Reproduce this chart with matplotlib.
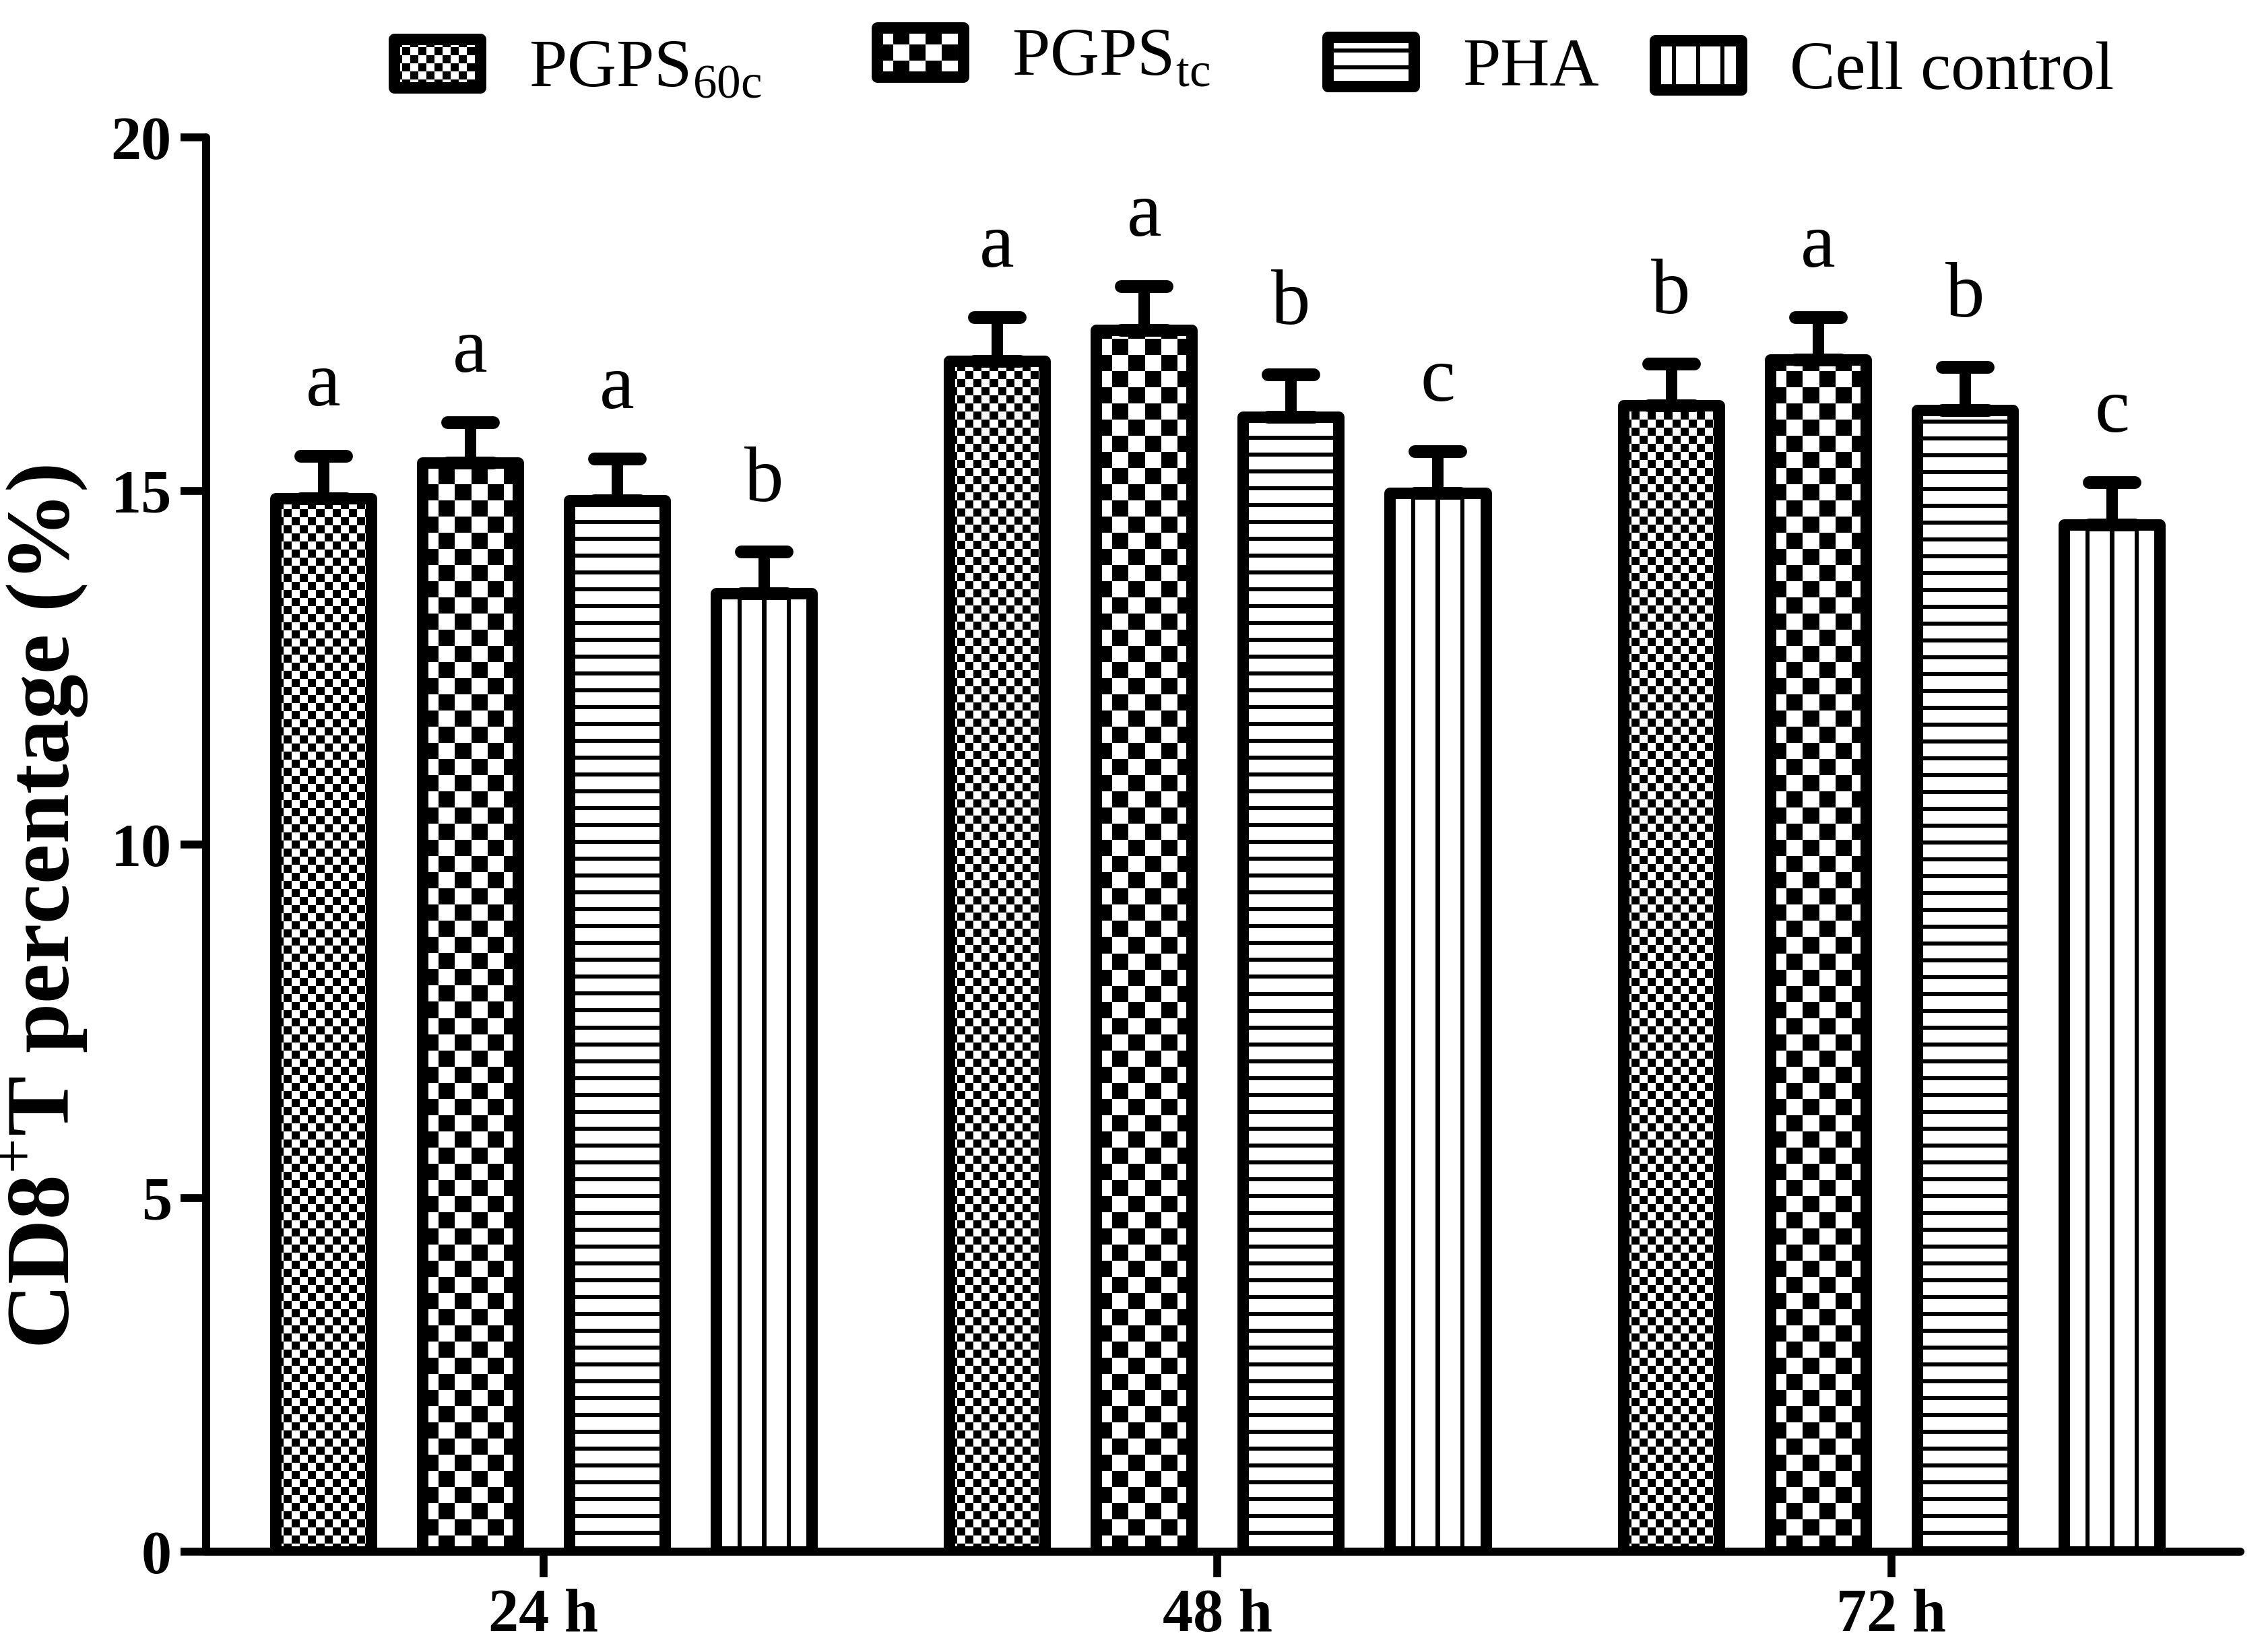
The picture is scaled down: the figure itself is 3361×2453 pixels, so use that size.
import numpy as np
import matplotlib
matplotlib.use('Agg')
import matplotlib.pyplot as plt
from matplotlib.patches import Rectangle
from matplotlib.collections import PatchCollection
from matplotlib.markers import MarkerStyle

plt.rcParams['font.family'] = ['Liberation Serif', 'DejaVu Serif']
plt.rcParams['mathtext.fontset'] = 'custom'
plt.rcParams['mathtext.rm'] = 'Liberation Serif'
plt.rcParams['mathtext.bf'] = 'Liberation Serif:bold'

groups = ['24 h', '48 h', '72 h']
series = ['PGPS$_{\\mathrm{60c}}$', 'PGPS$_{\\mathrm{tc}}$', 'PHA', 'Cell control']

pgps60c = [14.9, 16.84, 16.21]
pgpstc = [15.4, 17.28, 16.86]
pha = [14.87, 16.05, 16.14]
control = [13.55, 14.97, 14.52]

err_60c = [0.6, 0.62, 0.59]
err_tc = [0.57, 0.62, 0.6]
err_pha = [0.59, 0.6, 0.61]
err_ctrl = [0.59, 0.59, 0.6]

let_60c = ['a', 'a', 'b']
let_tc = ['a', 'a', 'a']
let_pha = ['a', 'b', 'b']
let_ctrl = ['b', 'c', 'c']

values = [pgps60c, pgpstc, pha, control]
errors = [err_60c, err_tc, err_pha, err_ctrl]
letters = [let_60c, let_tc, let_pha, let_ctrl]
patterns = ['fine', 'coarse', 'hlines', 'vlines']

W, H, DPI = 3362, 2453, 200
AX = [0.091, 0.0607, 0.8983, 0.8561]
XLIM = (-0.5007, 2.518)
PT = 72.0 / DPI  # points per pixel


def pattern(kind, nc, nr):
    # 1 = black, 0 = white, one cell per output pixel
    iy, ix = np.indices((nr, nc))
    if kind == 'fine':
        return ((ix // 12) + (iy // 12)) % 2
    if kind == 'coarse':
        return ((ix // 24) + (iy // 24)) % 2
    if kind == 'hlines':
        return ((iy % 25) < 6).astype(int)
    return (((ix - nc // 2 + 3) % 36) < 6).astype(int)


fig = plt.figure(figsize=(W / DPI, H / DPI), dpi=DPI)
ax = fig.add_axes(AX)
px_per_x = AX[2] * W / (XLIM[1] - XLIM[0])
px_per_y = AX[3] * H / 20.0

pitch = 0.218
width = 0.142
lw = 6.1
x = np.arange(len(groups))

for i in range(4):
    xs = x + (i - 1.5) * pitch
    bars = ax.bar(xs, values[i], width, facecolor='none', edgecolor='black',
                  linewidth=lw, zorder=2)
    for b in bars:
        b.set_joinstyle('round')
        bw, bh = b.get_width(), b.get_height()
        nc = int(round(bw * px_per_x))
        nr = int(round(bh * px_per_y))
        ax.imshow(pattern(patterns[i], nc, nr), cmap='gray_r', vmin=0, vmax=1,
                  extent=(b.get_x(), b.get_x() + bw, 0, bh), origin='lower',
                  interpolation='nearest', aspect='auto', zorder=1)
    eb = ax.errorbar(xs, values[i], yerr=[np.zeros(3), errors[i]], fmt='none',
                     ecolor='black', elinewidth=lw, capsize=12.4, capthick=6.8, zorder=1.5)
    for cl in eb[1]:
        cl.set_marker(MarkerStyle('_', capstyle='round'))
    for xi, v, e, t in zip(xs, values[i], errors[i], letters[i]):
        ax.annotate(t, (xi, v + e), xytext=(0, 27), textcoords='offset points',
                    ha='center', va='baseline', fontsize=42)

ax.set_xlim(*XLIM)
ax.set_ylim(0, 20)
ax.set_yticks([0, 5, 10, 15, 20])
ax.set_xticks(x)
ax.set_xticklabels(groups, fontsize=32.5, fontweight='bold')
for lab in ax.get_yticklabels():
    lab.set_fontsize(32.5)
    lab.set_fontweight('bold')
ax.tick_params(axis='y', direction='out', length=13.7, width=4.2, pad=4.7)
ax.tick_params(axis='x', direction='out', length=13.7, width=4.2, pad=6)
for s in ['top', 'right']:
    ax.spines[s].set_visible(False)
for s in ['left', 'bottom']:
    ax.spines[s].set_linewidth(4.3)
    ax.spines[s].set_capstyle('round')

ax.set_ylabel('CD8$^{+}$T percentage (%)', fontsize=48, fontweight='bold')
ax.yaxis.set_label_coords(-0.057, 0.456)


class PatternHandler:
    def __init__(self, kind):
        self.kind = kind

    def legend_artist(self, legend, orig_handle, fontsize, handlebox):
        x0, y0 = -handlebox.xdescent, -handlebox.ydescent
        w, h = handlebox.width, handlebox.height
        tr = handlebox.get_transform()
        rects = []
        if self.kind in ('fine', 'coarse'):
            cell = (12 if self.kind == 'fine' else 24) * PT
            nx, ny = int(np.ceil(w / cell)), int(np.ceil(h / cell))
            for r in range(ny):
                for c in range(nx):
                    if (r + c) % 2 == 1:
                        cx, cy = x0 + c * cell, y0 + r * cell
                        rects.append(Rectangle((cx, cy), min(cell, x0 + w - cx),
                                               min(cell, y0 + h - cy)))
        elif self.kind == 'hlines':
            step, t = 25 * PT, 6 * PT
            yy = y0
            while yy < y0 + h:
                rects.append(Rectangle((x0, yy), w, t))
                yy += step
        else:
            step, t = 36 * PT, 6 * PT
            xc = x0 + w / 2
            for k in range(-3, 4):
                xx = xc + k * step - t / 2
                if x0 <= xx <= x0 + w - t:
                    rects.append(Rectangle((xx, y0), t, h))
        pc = PatchCollection(rects, facecolor='black', edgecolor='none', transform=tr)
        box = Rectangle((x0, y0), w, h, facecolor='none', edgecolor='black', lw=lw,
                        joinstyle='round', transform=tr)
        handlebox.add_artist(pc)
        handlebox.add_artist(box)
        return box


# legend entries: left edge of handle and vertical centre, figure fraction
leg_x = [0.1740, 0.3873, 0.5862, 0.7308]
leg_y = [0.9574, 0.9641, 0.9584, 0.9564]
fsz = 36.5
for i in range(4):
    proxy = Rectangle((0, 0), 1, 1)
    lg = fig.legend([proxy], [series[i]], loc='center left',
                    bbox_to_anchor=(leg_x[i], leg_y[i]), frameon=False, fontsize=fsz,
                    borderpad=0, borderaxespad=0, handlelength=128 * PT / fsz,
                    handleheight=74 * PT / fsz, handletextpad=26 / fsz,
                    handler_map={proxy: PatternHandler(patterns[i])})

fig.savefig('out.png', dpi=DPI)
